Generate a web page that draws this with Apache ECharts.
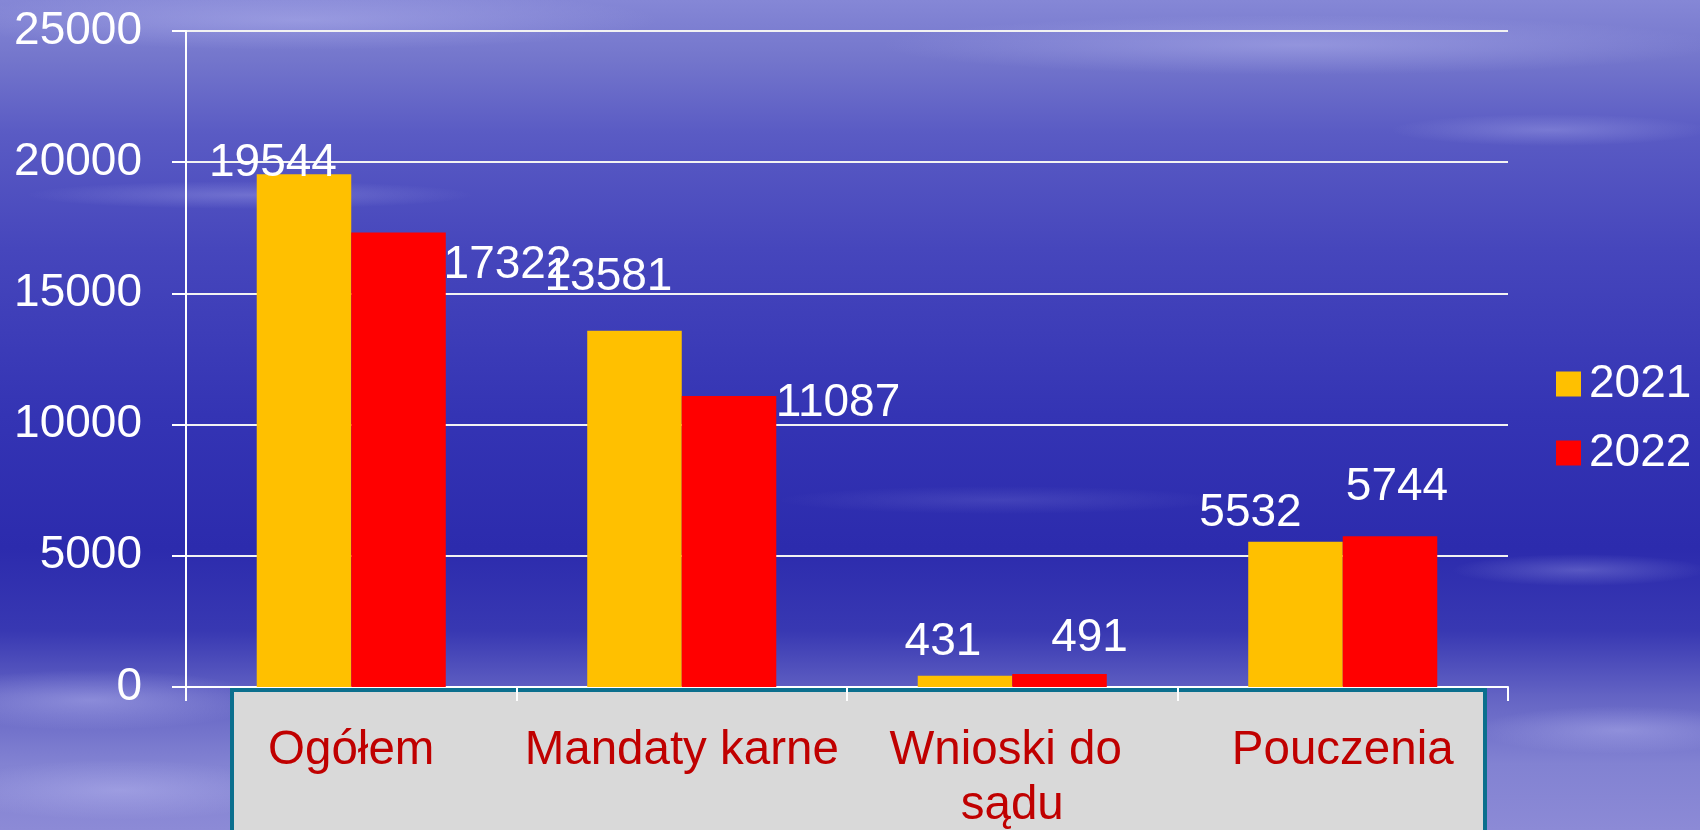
<!DOCTYPE html>
<html>
<head>
<meta charset="utf-8">
<script src="https://cdn.jsdelivr.net/npm/echarts@6/dist/echarts.min.js"></script>
<style>
  html, body { margin: 0; padding: 0; }
  #myChart { width: 1700px; height: 830px; }
</style>
</head>
<body>
<div id="myChart"></div>
<script>
// dane z wykresu
var categories = ["Ogółem", "Mandaty karne", "Wnioski do sądu", "Pouczenia"];
var seriesNames = ["2021", "2022"];
var values2021 = [19544, 13581, 431, 5532];
var values2022 = [17322, 11087, 491, 5744];
var yTicks = [0, 5000, 10000, 15000, 20000, 25000];

// przesunięcia etykiet (ręcznie ustawione w oryginale)
var offsets2021 = [[-31, 12], [-26, -30], [-22, -10], [-45, -6]];
var offsets2022 = [[109, 56], [109, 30], [30, -13], [7, -26]];

var fontName = "'Liberation Sans', Arial, sans-serif";

function withLabels(vals, offs) {
  return vals.map(function (v, i) {
    return { value: v, label: { offset: offs[i] } };
  });
}

// smugi w tle (chmury / woda)
function streak(cx, cy, r, sx, alpha) {
  return {
    type: "circle",
    x: cx, y: cy, scaleX: sx, scaleY: 1,
    shape: { cx: 0, cy: 0, r: r },
    style: {
      fill: {
        type: "radial", x: 0.5, y: 0.5, r: 0.5,
        colorStops: [
          { offset: 0, color: "rgba(210,210,255," + alpha + ")" },
          { offset: 1, color: "rgba(210,210,255,0)" }
        ]
      }
    },
    silent: true
  };
}

var myChart = echarts.init(document.getElementById("myChart"));
myChart.setOption({
  backgroundColor: {
    type: "linear", x: 0, y: 0, x2: 0, y2: 1,
    colorStops: [
      { offset: 0, color: "#8587d6" },
      { offset: 0.07, color: "#7476cc" },
      { offset: 0.16, color: "#5a5bc4" },
      { offset: 0.3, color: "#4646bc" },
      { offset: 0.5, color: "#3434b4" },
      { offset: 0.66, color: "#2c2bad" },
      { offset: 0.76, color: "#3838b2" },
      { offset: 0.84, color: "#6464c4" },
      { offset: 0.92, color: "#8282d2" },
      { offset: 1, color: "#8c8ad6" }
    ]
  },
  textStyle: { fontFamily: fontName },
  graphic: {
    z: -1,
    elements: [
      streak(300, 20, 30, 12, 0.3),
      streak(1300, 45, 30, 14, 0.3),
      streak(250, 195, 14, 16, 0.25),
      streak(1550, 130, 16, 10, 0.25),
      streak(1000, 500, 14, 16, 0.12),
      streak(1580, 570, 16, 8, 0.25),
      streak(1620, 730, 24, 6, 0.3),
      streak(90, 700, 30, 6, 0.35),
      streak(120, 790, 30, 6, 0.3),
      {
        type: "rect",
        shape: { x: 232, y: 690, width: 1253, height: 200 },
        style: { fill: "#d9d9d9", stroke: "#0b6f8e", lineWidth: 4 },
        silent: true
      }
    ]
  },
  legend: {
    data: seriesNames,
    orient: "vertical",
    left: 1556,
    top: 361,
    padding: 0,
    itemWidth: 25,
    itemHeight: 25,
    itemGap: 23,
    icon: "rect",
    textStyle: { color: "#ffffff", fontSize: 46, fontFamily: fontName, padding: [0, 0, 0, 3] }
  },
  grid: { left: 186, right: 192, top: 31, bottom: 143, outerBoundsMode: "none" },
  xAxis: {
    type: "category",
    data: categories,
    axisLine: { lineStyle: { color: "#ffffff", width: 2 } },
    axisTick: { show: true, length: 14, lineStyle: { color: "#ffffff", width: 2 } },
    axisLabel: {
      color: "#c00000",
      fontSize: 47.5,
      fontFamily: fontName,
      margin: 36,
      lineHeight: 55,
      width: 330,
      overflow: "break",
      interval: 0
    }
  },
  yAxis: {
    type: "value",
    min: yTicks[0],
    max: yTicks[yTicks.length - 1],
    interval: 5000,
    axisLine: { show: true, lineStyle: { color: "#ffffff", width: 2 } },
    axisTick: { show: true, length: 14, lineStyle: { color: "#ffffff", width: 2 } },
    axisLabel: {
      color: "#ffffff", fontSize: 46, fontFamily: fontName, margin: 44,
      formatter: function (v) { return String(v); }
    },
    splitLine: { show: true, lineStyle: { color: "#f2f2f2", width: 2 } }
  },
  series: [
    {
      name: seriesNames[0],
      type: "bar",
      data: withLabels(values2021, offsets2021),
      barGap: "0%",
      barCategoryGap: "42.8%",
      itemStyle: { color: "#ffc000" },
      label: { show: true, position: "top", distance: 0, color: "#ffffff", fontSize: 46, fontFamily: fontName }
    },
    {
      name: seriesNames[1],
      type: "bar",
      data: withLabels(values2022, offsets2022),
      itemStyle: { color: "#ff0000" },
      label: { show: true, position: "top", distance: 0, color: "#ffffff", fontSize: 46, fontFamily: fontName }
    }
  ]
});
window.addEventListener("resize", function () {
  myChart.resize();
});
</script>
</body>
</html>
